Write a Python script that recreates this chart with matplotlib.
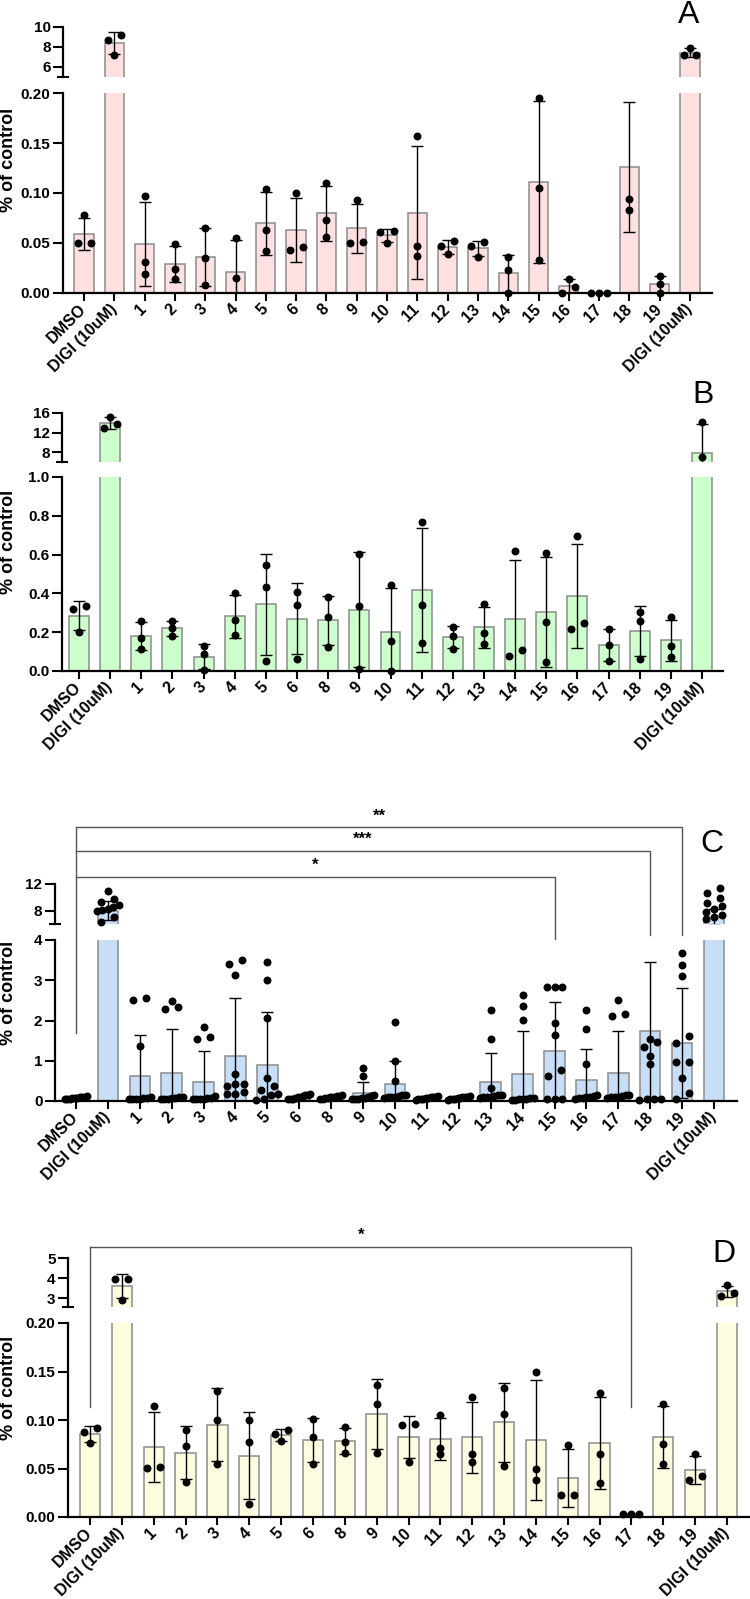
import numpy as np
import matplotlib
matplotlib.use("Agg")
import matplotlib.pyplot as plt
from matplotlib.transforms import blended_transform_factory

plt.rcParams['font.family'] = ['Liberation Sans', 'DejaVu Sans']
plt.rcParams['font.weight'] = 'bold'

categories = ["DMSO", "DIGI (10uM)", "1", "2", "3", "4", "5", "6", "8", "9", "10",
              "11", "12", "13", "14", "15", "16", "17", "18", "19", "DIGI (10uM)"]

# ---------------- Panel A: replicate values (n=3) ----------------
a_values = [
    [0.078, 0.050, 0.050], [9.25, 8.75, 7.2], [0.097, 0.031, 0.019],
    [0.049, 0.024, 0.014], [0.065, 0.035, 0.008], [0.055, 0.015, -0.008],
    [0.104, 0.063, 0.042], [0.100, 0.043, 0.046], [0.110, 0.073, 0.056],
    [0.093, 0.050, 0.051], [0.062, 0.061, 0.050], [0.157, 0.047, 0.037],
    [0.052, 0.047, 0.039], [0.051, 0.047, 0.036], [0.036, 0.023, 0.000],
    [0.195, 0.105, 0.033], [0.014, 0.000, 0.006], [0.0005, 0.0003, 0.0004],
    [0.094, 0.083, 0.201], [0.017, 0.009, 0.000], [7.95, 7.2, 7.2],
]

# ---------------- Panel B: replicate values (n=3) ----------------
b_values = [
    [0.334, 0.321, 0.202], [15.24, 13.7, 12.97], [0.260, 0.169, 0.114],
    [0.257, 0.222, 0.181], [0.129, 0.090, 0.003], [0.400, 0.262, 0.184],
    [0.547, 0.431, 0.052], [0.407, 0.340, 0.064], [0.379, 0.279, 0.124],
    [0.603, 0.336, 0.012], [0.445, 0.155, 0.0], [0.766, 0.340, 0.145],
    [0.228, 0.179, 0.114], [0.343, 0.197, 0.138], [0.617, 0.079, 0.110],
    [0.607, 0.252, 0.047], [0.695, 0.219, 0.245], [0.214, 0.133, 0.050],
    [0.302, 0.259, 0.062], [0.276, 0.129, 0.072], [14.2, 7.03, 2.57],
]

# ---------------- Panel C: means, SD and visible replicates ----------------
c_means = [0.08, 8.0, 0.62, 0.70, 0.48, 1.13, 0.90, 0.09, 0.08, 0.20, 0.41,
           0.06, 0.06, 0.46, 0.66, 1.24, 0.51, 0.70, 1.74, 1.44, 7.0]
c_sd = [0.03, 1.4, 1.03, 1.08, 0.75, 1.44, 1.31, 0.05, 0.03, 0.26, 0.58,
        0.03, 0.03, 0.74, 1.08, 1.22, 0.79, 1.03, 1.71, 1.36, 1.2]
c_values = [
    [0.12, 0.11, 0.10, 0.09, 0.08, 0.07, 0.07, 0.06, 0.05, 0.04],
    [11.0, 9.7, 9.3, 8.8, 8.5, 8.3, 8.1, 7.9, 7.0, 6.3],
    [2.55, 2.51, 1.36, 0.09, 0.08, 0.07, 0.06, 0.05, 0.05, 0.04],
    [2.49, 2.34, 2.28, 0.10, 0.09, 0.08, 0.07, 0.06, 0.05, 0.05],
    [1.83, 1.58, 1.53, 0.12, 0.08, 0.07, 0.06, 0.05, 0.04, 0.04],
    [3.50, 3.40, 3.13, 0.66, 0.43, 0.41, 0.37, 0.22, 0.18, 0.18],
    [3.45, 3.00, 2.07, 0.56, 0.37, 0.27, 0.18, 0.14, 0.06, 0.03],
    [0.18, 0.16, 0.14, 0.12, 0.10, 0.09, 0.08, 0.06, 0.05, 0.04],
    [0.14, 0.13, 0.12, 0.11, 0.10, 0.09, 0.08, 0.07, 0.06, 0.05],
    [0.83, 0.61, 0.16, 0.12, 0.10, 0.08, 0.07, 0.06, 0.05, 0.04],
    [1.97, 0.99, 0.50, 0.16, 0.14, 0.12, 0.11, 0.10, 0.09, 0.08],
    [0.12, 0.11, 0.10, 0.09, 0.08, 0.07, 0.06, 0.05, 0.04, 0.03],
    [0.12, 0.11, 0.10, 0.09, 0.08, 0.07, 0.06, 0.05, 0.04, 0.03],
    [2.26, 1.54, 0.33, 0.16, 0.14, 0.12, 0.11, 0.10, 0.09, 0.08],
    [2.63, 2.37, 2.01, 0.08, 0.07, 0.06, 0.05, 0.04, 0.03, 0.03],
    [2.82, 2.82, 2.82, 1.93, 1.64, 0.76, 0.63, 0.05, 0.04, 0.04],
    [2.26, 1.78, 0.91, 0.14, 0.12, 0.10, 0.09, 0.08, 0.07, 0.06],
    [2.52, 2.17, 2.12, 0.16, 0.14, 0.12, 0.11, 0.10, 0.09, 0.08],
    [1.53, 1.46, 1.33, 1.13, 0.93, 0.05, 0.04, 0.04, 0.03],
    [3.67, 3.38, 3.10, 1.61, 1.45, 0.97, 0.96, 0.56, 0.21, 0.05],
    [11.4, 10.6, 9.9, 9.2, 8.7, 8.3, 7.8, 7.4, 7.0, 6.7],
]

# ---------------- Panel D: replicate values (n=3) ----------------
d_values = [
    [0.092, 0.088, 0.076], [3.95, 3.95, 2.92], [0.114, 0.051, 0.052],
    [0.090, 0.073, 0.036], [0.130, 0.100, 0.055], [0.100, 0.077, 0.013],
    [0.090, 0.086, 0.078], [0.101, 0.082, 0.055], [0.093, 0.077, 0.066],
    [0.136, 0.116, 0.066], [0.0955, 0.0945, 0.057], [0.105, 0.0715, 0.0646],
    [0.124, 0.065, 0.057], [0.133, 0.1065, 0.053], [0.150, 0.049, 0.0385],
    [0.0746, 0.023, 0.023], [0.128, 0.065, 0.035], [0.0035, 0.0035, 0.0035],
    [0.117, 0.0756, 0.055], [0.065, 0.042, 0.038], [3.65, 3.25, 3.1],
]

# significance annotations (from DMSO to category)
c_sig_targets = ["19", "18", "15"]
c_sig_labels = ["**", "***", "*"]
d_sig_targets = ["17"]
d_sig_labels = ["*"]

W, H = 750, 1599
fig = plt.figure(figsize=(W / 100, H / 100), dpi=100)
fig.patch.set_facecolor('white')


def add_ax(left, right, top, bottom):
    return fig.add_axes([left / W, 1 - bottom / H, (right - left) / W, (bottom - top) / H])


def swarm(ypx, dmin=6.5, maxw=11.0):
    order = np.argsort(ypx)
    xs = np.zeros(len(ypx))
    bins = []
    for i in order:
        if bins and abs(ypx[i] - ypx[bins[-1][0]]) < dmin:
            bins[-1].append(i)
        else:
            bins.append([i])
    for b in bins:
        n = len(b)
        if n == 1:
            continue
        if n == 2:
            xs[b[0]], xs[b[1]] = -6.5, 6.5
            continue
        step = min(8.0, 2 * maxw / (n - 1))
        for k, i in enumerate(b):
            xs[i] = (k - (n - 1) / 2) * step
    return xs


def panel(cfg, means, errs, values, color):
    left, right = cfg['xspan']
    ax_t = add_ax(left, right, *cfg['top'])
    ax_b = add_ax(left, right, *cfg['bottom'])
    x = np.arange(len(categories))
    xlim = ((left - cfg['x0']) / cfg['dx'], (right - cfg['x0']) / cfg['dx'])
    for ax, ylim in ((ax_t, cfg['top_ylim']), (ax_b, cfg['bot_ylim'])):
        ax.set_facecolor('none')
        ax.bar(x, means, width=0.64, color=color, edgecolor='#8c8c8c', linewidth=1.1, zorder=1)
        ax.errorbar(x, means, yerr=errs, fmt='none', ecolor='black', elinewidth=1.0,
                    capsize=4, capthick=1.0, zorder=2)
        ax.set_xlim(*xlim)
        ax.set_ylim(*ylim)
        for s in ('top', 'right'):
            ax.spines[s].set_visible(False)
        ax.spines['left'].set_linewidth(1.6)
        ax.spines['bottom'].set_linewidth(1.6)
        ax.tick_params(axis='y', which='major', direction='out', length=7, width=1.5,
                       labelsize=11, pad=2)
    # replicate dots
    for ax, ylim in ((ax_t, cfg['top_ylim']), (ax_b, cfg['bot_ylim'])):
        pxu = ax.transData.transform((1, 0))[0] - ax.transData.transform((0, 0))[0]
        for i, vals in enumerate(values):
            v = np.array([p for p in vals if ylim[0] <= p <= ylim[1] * 1.001])
            if len(v) == 0:
                continue
            ypx = ax.transData.transform(np.column_stack([np.zeros(len(v)), v]))[:, 1]
            off = swarm(ypx) / pxu
            ax.plot(i + off, v, 'o', ms=4.7, color='black', clip_on=False, zorder=3)
    # top segment
    ax_t.spines['bottom'].set_visible(False)
    ax_t.set_xticks([])
    ax_t.set_yticks(cfg['top_ticks'])
    ax_t.set_yticklabels([f"{t:g}" for t in cfg['top_ticks']])
    ax_t.set_yticks([cfg['top_ylim'][0]], minor=True)
    ax_t.tick_params(axis='y', which='minor', direction='inout', length=8, width=1.5)
    # bottom segment
    ax_b.set_yticks(cfg['bot_ticks'])
    ax_b.set_yticklabels([cfg['fmt'] % t for t in cfg['bot_ticks']])
    ax_b.set_xticks(x)
    ax_b.set_xticklabels(categories, rotation=45, ha='right', va='center',
                         rotation_mode='anchor', fontsize=11.5, fontweight='bold')
    ax_b.tick_params(axis='x', direction='out', length=6, width=1.5, pad=4)
    # labels
    top_px = cfg['top'][0]
    bot_px = cfg['bottom'][1]
    fig.text(9 / W, 1 - (top_px + bot_px) / 2 / H, '% of control', rotation=90,
             ha='center', va='center', fontsize=13, fontweight='bold')
    fig.text(cfg['letter'][0] / W, 1 - cfg['letter'][1] / H, cfg['name'],
             ha='center', va='center', fontsize=23, fontweight='normal')
    return ax_t, ax_b


def brackets(ax, targets, labels, tops, star_y, ends, start_y):
    tr = blended_transform_factory(ax.transData, ax.transAxes)
    top_max = max(tops)
    ax.plot([0, 0], [start_y, top_max], color='#555555', lw=1.0, transform=tr, clip_on=False)
    for tgt, lab, t, sy, e in zip(targets, labels, tops, star_y, ends):
        xi = categories.index(tgt)
        ax.plot([0, xi, xi], [t, t, e], color='#555555', lw=1.0, transform=tr, clip_on=False)
        ax.text(xi / 2, sy, lab, transform=tr, ha='center', va='center', fontsize=12,
                fontweight='bold')


cfgA = dict(name='A', xspan=(63, 712), top=(27, 77), bottom=(93, 293), x0=84, dx=30.3,
            top_ylim=(5, 10), top_ticks=[6, 8, 10], bot_ylim=(0, 0.2),
            bot_ticks=[0, 0.05, 0.10, 0.15, 0.20], fmt='%.2f', letter=(689, 15))
cfgB = dict(name='B', xspan=(62, 723), top=(413, 462), bottom=(477, 671), x0=79, dx=31.15,
            top_ylim=(6, 16), top_ticks=[8, 12, 16], bot_ylim=(0, 1.0),
            bot_ticks=[0, 0.2, 0.4, 0.6, 0.8, 1.0], fmt='%.1f', letter=(703, 395))
cfgC = dict(name='C', xspan=(55, 737), top=(884, 924), bottom=(940, 1101), x0=76, dx=31.9,
            top_ylim=(6, 12), top_ticks=[8, 12], bot_ylim=(0, 4),
            bot_ticks=[0, 1, 2, 3, 4], fmt='%d', letter=(712, 844))
cfgD = dict(name='D', xspan=(68, 749), top=(1258, 1307), bottom=(1323, 1517), x0=90, dx=31.85,
            top_ylim=(2.55, 5), top_ticks=[3, 4, 5], bot_ylim=(0, 0.2),
            bot_ticks=[0, 0.05, 0.10, 0.15, 0.20], fmt='%.2f', letter=(724, 1254))

a_means = [np.mean(v) for v in a_values]
a_sd = [np.std(v, ddof=1) for v in a_values]
b_means = [np.mean(v) for v in b_values]
b_sd = [np.std(v, ddof=1) for v in b_values]
d_means = [np.mean(v) for v in d_values]
d_sd = [np.std(v, ddof=1) for v in d_values]

panel(cfgA, a_means, a_sd, a_values, '#FFE0E0')
panel(cfgB, b_means, b_sd, b_values, '#CCFFCC')
_, axc = panel(cfgC, c_means, c_sd, c_values, '#C6DEF6')
_, axd = panel(cfgD, d_means, d_sd, d_values, '#FFFDE0')

brackets(axc, c_sig_targets, c_sig_labels, tops=[1.702, 1.553, 1.391],
         star_y=[1.77, 1.627, 1.466], ends=[1.031, 1.031, 1.006], start_y=0.422)
brackets(axd, d_sig_targets, d_sig_labels, tops=[1.392], star_y=[1.454],
         ends=[0.567], start_y=0.567)

fig.savefig('out.png', dpi=100, facecolor='white')
